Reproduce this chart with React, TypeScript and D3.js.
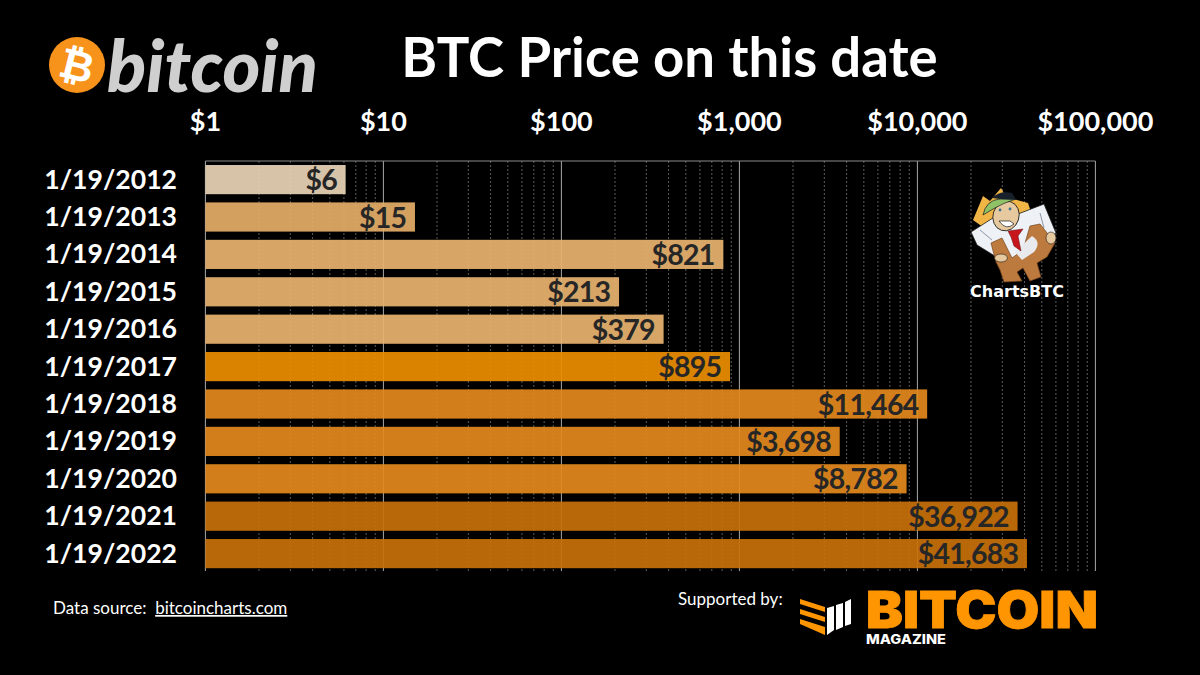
import React from "react";
import * as d3 from "d3";

const dates = ["1/19/2012", "1/19/2013", "1/19/2014", "1/19/2015", "1/19/2016", "1/19/2017", "1/19/2018", "1/19/2019", "1/19/2020", "1/19/2021", "1/19/2022"];
// the two early prices keep their cents, the bars end past the rounded label
const prices = [6.2, 15.2, 821, 213, 379, 895, 11464, 3698, 8782, 36922, 41683];
// bars sit at 92% over the gridlines, so these are a bit brighter than what shows
const barColors = ["#e9d4b6", "#e5ae68", "#e9b36f", "#e9b36f", "#e9b36f", "#ec8e00", "#e4891d", "#e4891d", "#e4891d", "#c87109", "#c87109"];
const axisTicks = [1, 10, 100, 1000, 10000, 100000];

const FONT = "Lato, Carlito, Calibri, sans-serif";
const W = 1200;
const H = 675;
const PLOT_TOP = 161;
const PLOT_BOTTOM = 571;

const x = d3.scaleLog([1, 100000], [205.4, 1095.4]);
const y = d3.scaleBand(dates, [160.9, 572.3]).paddingInner(0.22).paddingOuter(0.11);
const money = (v: number) => "$" + d3.format(",.0f")(v);

// minor log gridlines, 2..9 in every decade
const minorTicks = x.ticks().filter((t) => !axisTicks.includes(t));

function BitcoinLogo() {
  return (
    <g>
      <circle cx={77} cy={65} r={28} fill="#f7931a" />
      <text x={77} y={80} fontFamily={FONT} fontWeight={900} fontSize={42} fill="#fff" textAnchor="middle" transform="rotate(14 77 65)">₿</text>
      <text x={107} y={92} fontFamily={FONT} fontStyle="italic" fontWeight={900} fontSize={72} fill="#cfcfcf" textLength={211} lengthAdjust="spacingAndGlyphs">bitcoin</text>
    </g>
  );
}

function Mascot() {
  const ink = "#1a1a1a";
  return (
    <g strokeLinejoin="round">
      {/* coin behind the head */}
      <path d="M973 220 L983 196 L990 201 L1001 188 L1006 197 L1028 203 L1031 212 L990 232 Z" fill="#f0b544" />
      {/* shirt, both arms */}
      <path d="M971 232 L996 216 L1018 214 L1044 204 L1056 233 L1046 240 L1036 228 L1026 252 L1012 262 L998 258 L977 245 Z" fill="#eef1f5" stroke={ink} strokeWidth={0.8} />
      <path d="M980 230 L992 240 M1040 213 L1044 228 M1005 246 L1009 256" stroke="#8c96a6" strokeWidth={1} fill="none" />
      {/* coin in front of the chest */}
      <path d="M991 243 L1002 238 L1012 258 L1023 250 L1030 226 L1040 224 L1055 243 L1047 257 L1037 263 L1041 277 L1030 281 L1023 268 L1017 272 L1022 281 L1004 282 L1000 270 L996 262 Z" fill="#bd7a3f" stroke="#74431b" strokeWidth={0.7} />
      <path d="M1032 236 Q1042 242 1034 252 L1022 260 L1015 252 Z" fill="#e8eaee" />
      {/* tie */}
      <path d="M1008 231 L1023 229 L1018 236 L1021 251 L1014 246 L1011 237 Z" fill="#c8161d" stroke="#5a0a0d" strokeWidth={0.5} />
      {/* head */}
      <ellipse cx={1006} cy={216} rx={13} ry={15} fill="#e6c99f" stroke={ink} strokeWidth={0.8} transform="rotate(18 1006 216)" />
      <path d="M999 221 Q1006 231 1014 224 L1010 221 Z" fill="#fff" stroke={ink} strokeWidth={0.7} />
      <circle cx={1000} cy={210} r={1.4} fill="#3d6f8e" />
      <circle cx={1010} cy={209} r={1.4} fill="#3d6f8e" />
      {/* hat */}
      <path d="M983 215 Q986 200 1000 199 L1016 199 Q1003 203 993 209 Z" fill="#8fc267" stroke={ink} strokeWidth={0.7} />
      <path d="M992 198 Q1000 190 1012 193 L1016 200 L1000 199 Z" fill="#18202c" />
      {/* hands */}
      <ellipse cx={1001} cy={258} rx={6.5} ry={4} fill="#e6c99f" stroke={ink} strokeWidth={0.6} />
      <ellipse cx={1051} cy={238} rx={5} ry={6} fill="#e6c99f" stroke={ink} strokeWidth={0.6} />
    </g>
  );
}

function MagazineLogo() {
  const orange = "#ff9500";
  return (
    <g>
      <path d="M800 599 L825 607 L825 612 L800 604 Z" fill={orange} />
      <path d="M800 609 L825 617 L825 622 L800 614 Z" fill={orange} />
      <path d="M800 619 L825 627 L825 635 L800 624 Z" fill={orange} />
      <path d="M827 608 L834 606 L834 630 L827 635 Z" fill="#fff" />
      <path d="M836 605 L843 603 L843 627 L836 630 Z" fill="#fff" />
      <path d="M845 602 L851 599 L851 624 L845 626 Z" fill="#fff" />
      <text x={866} y={628} fontFamily="Inter, sans-serif" fontWeight={900} fontSize={51} fill={orange} stroke={orange} strokeWidth={0.8} textLength={232} lengthAdjust="spacingAndGlyphs">BITCOIN</text>
      <text x={866} y={644} fontFamily="Inter, sans-serif" fontWeight={800} fontSize={13} fill="#fff" textLength={80} lengthAdjust="spacingAndGlyphs">MAGAZINE</text>
    </g>
  );
}

export default function App() {
  return (
    <svg width={W} height={H} viewBox={`0 0 ${W} ${H}`} style={{ position: "absolute", left: 0, top: 0, background: "#000" }}>
      <rect width={W} height={H} fill="#000" />
      <BitcoinLogo />
      <text x={669.5} y={77} textAnchor="middle" fontFamily={FONT} fontWeight={700} fontSize={54.5} fill="#fff">BTC Price on this date</text>

      {axisTicks.map((t) => (
        <text key={t} x={x(t)} y={131} textAnchor="middle" fontFamily={FONT} fontWeight={700} fontSize={27} fill="#fff">{money(t)}</text>
      ))}

      {minorTicks.map((t) => (
        <line key={t} x1={x(t)} x2={x(t)} y1={PLOT_TOP} y2={PLOT_BOTTOM} stroke="#5c5c5c" strokeWidth={1} strokeDasharray="2 2" />
      ))}
      {axisTicks.map((t) => (
        <line key={t} x1={x(t)} x2={x(t)} y1={PLOT_TOP} y2={PLOT_BOTTOM} stroke="#a8a8a8" strokeWidth={1} />
      ))}
      <line x1={x(1)} x2={x(100000)} y1={PLOT_TOP} y2={PLOT_TOP} stroke="#8a8a8a" />

      {dates.map((d, i) => (
        <rect key={d} x={x(1)} y={y(d)!} width={x(prices[i]) - x(1) - 0.8} height={y.bandwidth()} fill={barColors[i]} fillOpacity={0.92} />
      ))}

      {dates.map((d, i) => (
        <g key={d}>
          <text x={177} y={y(d)! + y.bandwidth() / 2 + 9} textAnchor="end" fontFamily={FONT} fontWeight={700} fontSize={26.6} fill="#fff">{d}</text>
          <text x={x(prices[i]) - 9.5} y={y(d)! + y.bandwidth() / 2 + 10.5} textAnchor="end" fontFamily={FONT} fontWeight={700} fontSize={28.5} letterSpacing={-0.75} fill="#262626">{money(prices[i])}</text>
        </g>
      ))}

      <Mascot />
      <text x={1017} y={297} textAnchor="middle" fontFamily="'Comic Sans MS', 'DejaVu Sans', sans-serif" fontWeight={700} fontSize={16} fill="#fff">ChartsBTC</text>

      <text x={53} y={614} fontFamily={FONT} fontSize={17} fill="#fff" xmlSpace="preserve">Data source:  <tspan textDecoration="underline">bitcoincharts.com</tspan></text>
      <text x={678} y={605} fontFamily={FONT} fontSize={17} fill="#fff">Supported by:</text>
      <MagazineLogo />
    </svg>
  );
}
